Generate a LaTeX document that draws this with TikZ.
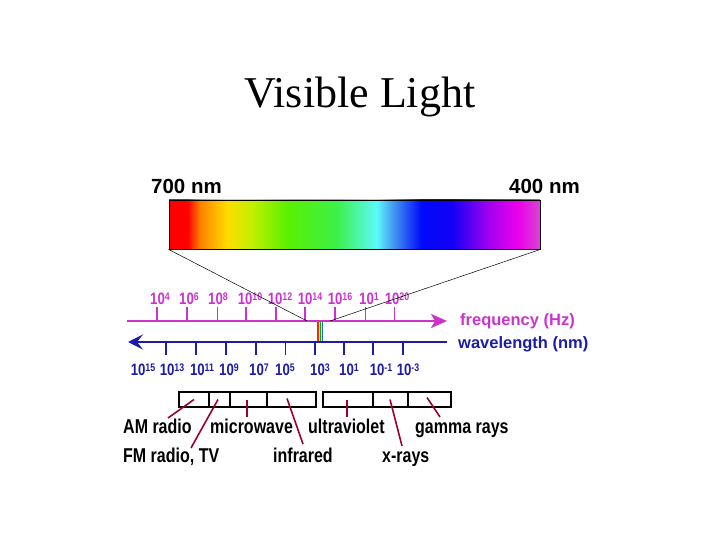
\documentclass[tikz,border=0pt]{standalone}
\usepackage{fontspec}
\setmainfont{Liberation Serif}
\setsansfont{Liberation Sans}
\usepackage{xcolor}
\definecolor{FreqMagenta}{HTML}{CC33CC}
\definecolor{WaveBlue}{HTML}{1C1CA6}
\definecolor{LeaderRed}{HTML}{990033}
\usepackage{tikz}
\usetikzlibrary{arrows.meta, calc}
\pgfdeclarehorizontalshading{visible}{100bp}{%
  color(0bp)=(red); color(25bp)=(red); color(27.5bp)=(red);
  color(29.2bp)=(rgb,255:red,255;green,130;blue,0);
  color(32.8bp)=(rgb,255:red,255;green,220;blue,0);
  color(36.3bp)=(rgb,255:red,190;green,240;blue,0);
  color(40.9bp)=(rgb,255:red,90;green,240;blue,0);
  color(47.5bp)=(rgb,255:red,60;green,240;blue,70);
  color(53bp)=(rgb,255:red,90;green,250;blue,250);
  color(55bp)=(rgb,255:red,70;green,160;blue,240);
  color(59bp)=(rgb,255:red,0;green,10;blue,250);
  color(63.2bp)=(rgb,255:red,20;green,0;blue,245);
  color(68bp)=(rgb,255:red,160;green,0;blue,240);
  color(72bp)=(rgb,255:red,235;green,0;blue,235);
  color(75bp)=(rgb,255:red,215;green,70;blue,210);
  color(100bp)=(rgb,255:red,215;green,70;blue,210)}
\tikzstyle{spectrum} = [rectangle, draw=black, line width=0.8pt, shading=visible, minimum width=371pt, minimum height=49pt, inner sep=0]
\tikzstyle{barlabel} = [font=\sffamily\bfseries\fontsize{20.5}{20.5}\selectfont, inner sep=0]
\tikzstyle{zoomline} = [black, line width=0.5pt]
\tikzstyle{freqaxis} = [line width=2pt, color=FreqMagenta, -{Stealth[length=16pt,width=14pt,inset=4pt]}]
\tikzstyle{waveaxis} = [line width=2pt, color=WaveBlue, -{Stealth[length=15pt,width=15pt,inset=6pt]}]
\tikzstyle{ticklabel} = [font=\sffamily\bfseries\fontsize{16.5}{16.5}\selectfont, anchor=base, inner sep=0]
\tikzstyle{axislabel} = [font=\sffamily\bfseries\fontsize{16.5}{16.5}\selectfont, anchor=base west, inner sep=0]
\tikzstyle{bandbox} = [rectangle, draw=black, line width=1.8pt, minimum height=15pt, inner sep=0]
\tikzstyle{bandlabel} = [font=\sffamily\bfseries\fontsize{20}{20}\selectfont, anchor=base west, inner sep=0]
\tikzstyle{leader} = [LeaderRed, line width=1.6pt]
\newcommand{\tenpow}[1]{\scalebox{0.8}[1]{10\raisebox{3.9pt}{\fontsize{11}{11}\selectfont #1}}}
\newcommand{\slimtext}[1]{\scalebox{0.8}[1]{#1}}

\begin{document}
\begin{tikzpicture}[x=1pt, y=-1pt]
        \useasboundingbox (0,0) rectangle (720,540);

        % --- title ---
        \node [font=\fontsize{44}{44}\selectfont, anchor=base, inner sep=0] (title) at (360,108) {Visible Light};

        % --- visible band ---
        \node [spectrum] (bar) at (354.5,224.5) {};
        \node [barlabel, anchor=base west] (redend) at (151,194) {700 nm};
        \node [barlabel, anchor=base east] (violetend) at (580,194) {400 nm};

        % --- frequency axis ---
        \coordinate (fstart) at (127,321);
        \coordinate (fend) at (447,321);
        \draw [freqaxis] (fstart) -- (fend);
        \foreach \x/\w in {157/2.4, 187/2.4, 217/1, 246/2.4, 276/2.4, 305/2.4, 335/2.4, 365/1, 394/1}
            \draw [FreqMagenta, line width=\w pt] (\x,321) -- (\x,307);
        \foreach \x/\e [count=\i] in {160/4, 189/6, 218/8, 250/10, 280/12, 310/14, 340/16, 369/1, 397/20}
            \node [ticklabel, text=FreqMagenta] (f\i) at (\x,304) {\tenpow{\e}};
        \node [axislabel, text=FreqMagenta] (freqname) at (460,325) {frequency (Hz)};

        % --- wavelength axis ---
        \coordinate (wstart) at (447,342);
        \coordinate (wend) at (128,342);
        \draw [waveaxis] (wstart) -- (wend);
        \foreach \x/\w in {166/2.4, 196/2.4, 226/2.4, 256/2.4, 285/1, 315/2.4, 344/2.4, 373/2.4, 403/2.4}
            \draw [WaveBlue, line width=\w pt] (\x,342) -- (\x,355);
        \foreach \x/\e [count=\i] in {143/15, 172/13, 202/11, 229/9, 259/7, 285/5, 320/3, 349/1, 381/-1, 408/-3}
            \node [ticklabel, text=WaveBlue] (w\i) at (\x,375) {\tenpow{\e}};
        \node [axislabel, text=WaveBlue] (wavename) at (458,348) {wavelength (nm)};

        % --- visible slice on the axes ---
        \foreach \x/\c in {318/red!70!orange, 319.4/yellow, 320.8/green!70!black, 322.2/cyan!50!blue}
            \draw [\c, line width=1.3pt] (\x,322) -- (\x,341);
        \coordinate (zl) at (307,321);
        \coordinate (zr) at (330,321);
        \draw [zoomline] (bar.south west) -- (zl);
        \draw [zoomline] (bar.south east) -- (zr);

        % --- bands ---
        \node [bandbox, minimum width=30pt] (b1) at (194,399.5) {};
        \node [bandbox, minimum width=21pt] (b2) at (219.5,399.5) {};
        \node [bandbox, minimum width=37pt] (b3) at (248.5,399.5) {};
        \node [bandbox, minimum width=49pt] (b4) at (291.5,399.5) {};
        \node [bandbox, minimum width=50pt] (b5) at (348,399.5) {};
        \node [bandbox, minimum width=35pt] (b6) at (390.5,399.5) {};
        \node [bandbox, minimum width=43pt] (b7) at (429.5,399.5) {};

        % Band names
        \node [bandlabel] (am) at (123,433) {\slimtext{AM radio}};
        \node [bandlabel] (fm) at (123,462) {\slimtext{FM radio, TV}};
        \node [bandlabel] (micro) at (210,433) {\slimtext{microwave}};
        \node [bandlabel] (ir) at (273,462) {\slimtext{infrared}};
        \node [bandlabel] (uv) at (308,433) {\slimtext{ultraviolet}};
        \node [bandlabel] (xray) at (382,462) {\slimtext{x-rays}};
        \node [bandlabel] (gamma) at (415,433) {\slimtext{gamma rays}};

        % Leaders
        \coordinate (am end) at (168,418);
        \coordinate (fm end) at (191,448);
        \coordinate (micro end) at (247,417);
        \coordinate (ir end) at (303,444);
        \coordinate (uv end) at (347,417);
        \coordinate (xray end) at (402,446);
        \coordinate (gamma end) at (440,417);
        \draw [leader] (b1.center) -- (am end);
        \draw [leader] ($(b2.center)+(-1.5,0)$) -- (fm end);
        \draw [leader] ($(b3.center)+(-1.5,0)$) -- (micro end);
        \draw [leader] ($(b4.center)+(-4.5,-1)$) -- (ir end);
        \draw [leader] ($(b5.center)+(-1,0)$) -- (uv end);
        \draw [leader] ($(b6.center)+(-0.5,0)$) -- (xray end);
        \draw [leader] ($(b7.center)+(-2.5,-2)$) -- (gamma end);
    \end{tikzpicture}
\end{document}
